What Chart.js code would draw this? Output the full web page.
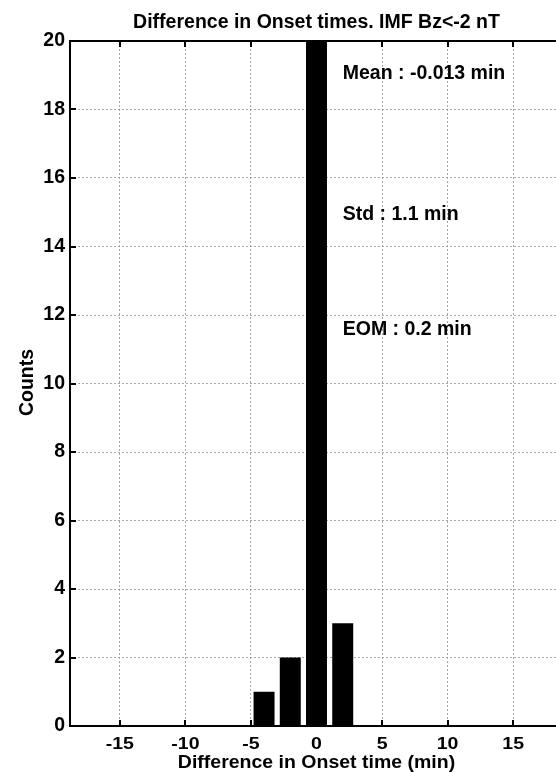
<!DOCTYPE html>
<html>
<head>
<meta charset="utf-8">
<title>Difference in Onset times</title>
<script src="https://cdn.jsdelivr.net/npm/chart.js@4/dist/chart.umd.min.js"></script>
<style>
  html, body { margin: 0; padding: 0; background: #fff; overflow: hidden; }
  #wrap { width: 563px; height: 772px; }
</style>
</head>
<body>
<div id="wrap"><canvas id="c" width="563" height="772"></canvas></div>
<script>
// Histogram of onset-time differences (bin width 2 min)
const binCenters = [-4, -2, 0, 2];
const counts = [1, 2, 24, 3];

// Axis ticks
const xTicks = [-15, -10, -5, 0, 5, 10, 15];
const yTicks = [0, 2, 4, 6, 8, 10, 12, 14, 16, 18, 20];

// Summary statistics written inside the plot
const statLabels = ['Mean : -0.013 min', 'Std : 1.1 min', 'EOM : 0.2 min'];
const titleText = 'Difference in Onset times. IMF Bz<-2 nT';
const xTitle = 'Difference in Onset time (min)';
const yTitle = 'Counts';

// Where the statistics text sits, in data units
const statX = 2;
const statY = [19.05, 14.93, 11.57];

const FAMILY = '"Liberation Sans", Arial, sans-serif';
const FONT = 'bold 19.5px ' + FAMILY;

// draw text squeezed vertically around its baseline
function squeezed(ctx, text, x, y, sy) {
  ctx.save();
  ctx.translate(x, y);
  ctx.scale(1, sy);
  ctx.fillText(text, 0, 0);
  ctx.restore();
}

const frame = {
  id: 'frame',
  afterDatasetsDraw(chart) {
    const { ctx, chartArea: a, scales } = chart;
    const x = scales.x, y = scales.y;
    ctx.save();
    ctx.strokeStyle = '#000';
    ctx.lineWidth = 2;
    // axes box: left, bottom, top
    ctx.beginPath();
    ctx.moveTo(a.left, a.top); ctx.lineTo(a.left, a.bottom);
    ctx.moveTo(a.left - 1, a.bottom); ctx.lineTo(a.right, a.bottom);
    ctx.moveTo(a.left - 1, a.top); ctx.lineTo(a.right, a.top);
    ctx.stroke();
    // inward tick marks
    const tl = 6;
    ctx.beginPath();
    xTicks.forEach(v => {
      const px = Math.round(x.getPixelForValue(v));
      ctx.moveTo(px, a.bottom); ctx.lineTo(px, a.bottom - tl);
      ctx.moveTo(px, a.top); ctx.lineTo(px, a.top + tl);
    });
    yTicks.forEach(v => {
      const py = Math.round(y.getPixelForValue(v));
      ctx.moveTo(a.left, py); ctx.lineTo(a.left + tl, py);
    });
    ctx.stroke();
    ctx.restore();
  },
  afterDraw(chart) {
    const { ctx, chartArea: a, scales } = chart;
    const cx = (a.left + a.right) / 2;
    const cy = (a.top + a.bottom) / 2;
    ctx.save();
    ctx.fillStyle = '#000';
    ctx.font = FONT;
    ctx.textAlign = 'center';
    ctx.textBaseline = 'alphabetic';
    ctx.fillText(titleText, cx, 27.5);
    // x tick labels and x title
    xTicks.forEach(v => squeezed(ctx, String(v), scales.x.getPixelForValue(v), a.bottom + 23, 0.84));
    squeezed(ctx, xTitle, cx, 767.5, 0.93);
    // y title
    ctx.save();
    ctx.translate(33, cy - 1);
    ctx.rotate(-Math.PI / 2);
    ctx.fillText(yTitle, 0, 0);
    ctx.restore();
    // statistics
    ctx.textAlign = 'left';
    ctx.textBaseline = 'middle';
    statLabels.forEach((t, i) => {
      ctx.fillText(t, scales.x.getPixelForValue(statX), scales.y.getPixelForValue(statY[i]));
    });
    ctx.restore();
  }
};

const gridColor = 'rgba(150,150,150,0.85)';

new Chart(document.getElementById('c'), {
  type: 'bar',
  data: {
    datasets: [{
      data: binCenters.map((b, i) => ({ x: b, y: counts[i] })),
      backgroundColor: '#000',
      borderWidth: 0,
      barPercentage: 0.8,
      categoryPercentage: 1.0
    }]
  },
  options: {
    responsive: false,
    animation: false,
    devicePixelRatio: 1,
    layout: { padding: { top: 41, left: 0, right: 0, bottom: 0 } },
    plugins: { legend: { display: false }, title: { display: false }, tooltip: { enabled: false } },
    scales: {
      x: {
        type: 'linear',
        min: -18.8,
        max: 18.8,
        offset: false,
        afterBuildTicks: s => { s.ticks = xTicks.map(v => ({ value: v })); },
        afterFit: s => { s.height = 46; s.paddingLeft = 0; s.paddingRight = 0; },
        grid: { offset: false, drawTicks: false, color: gridColor, lineWidth: 1 },
        border: { display: false, dash: [2, 2] },
        ticks: { display: false }
      },
      y: {
        min: 0,
        max: 20,
        afterBuildTicks: s => { s.ticks = yTicks.map(v => ({ value: v })); },
        afterFit: s => { s.width = 70; },
        grid: { drawTicks: false, color: gridColor, lineWidth: 1 },
        border: { display: false, dash: [2, 2] },
        ticks: { color: '#000', font: { family: FAMILY, size: 19.5, weight: 'bold' }, padding: 5 }
      }
    }
  },
  plugins: [frame]
});
</script>
</body>
</html>
